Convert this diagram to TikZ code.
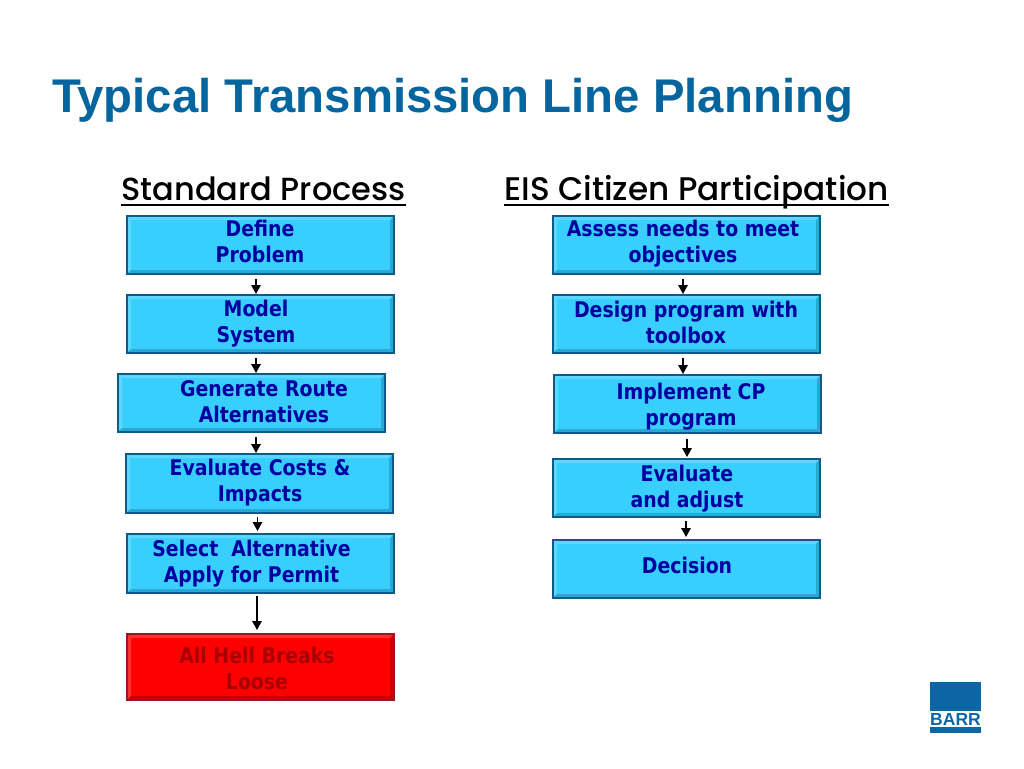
\documentclass[tikz,border=0pt]{standalone}
\usepackage{fontspec}
\setmainfont{Liberation Sans}
\newfontfamily\boxfont[FakeStretch=0.875]{DejaVu Sans Bold}
\newfontfamily\headfont{Poppins Medium}
\usetikzlibrary{arrows.meta,calc}
\definecolor{titleblue}{HTML}{05659E}
\definecolor{boxfill}{HTML}{38CFFF}
\definecolor{boxlight}{HTML}{5CD8FF}
\definecolor{boxdark}{HTML}{2AA8D4}
\definecolor{boxedge}{HTML}{0E5A88}
\definecolor{boxtext}{HTML}{0000A0}
\definecolor{redfill}{HTML}{FF0000}
\definecolor{redlight}{HTML}{FF3030}
\definecolor{reddark}{HTML}{C80000}
\definecolor{rededge}{HTML}{9A1525}
\definecolor{redtext}{HTML}{A80000}
\definecolor{logoblue}{HTML}{0B66A5}
\tikzset{
  bevel/.style n args={2}{path picture={
    \coordinate (bl) at (path picture bounding box.south west);
    \coordinate (tr) at (path picture bounding box.north east);
    \coordinate (tl) at (path picture bounding box.north west);
    \coordinate (br) at (path picture bounding box.south east);
    \fill[#1] (bl) -- (tl) -- (tr) -- ($(tr)+(-4,4)$) -- ($(tl)+(4,4)$) -- ($(bl)+(4,-4)$) -- cycle;
    \fill[#2] (bl) -- (br) -- (tr) -- ($(tr)+(-4,4)$) -- ($(br)+(-4,-4)$) -- ($(bl)+(4,-4)$) -- cycle;
  }},
  flowbox/.style={rectangle,inner sep=0,minimum width=267pt,minimum height=58pt,draw=boxedge,line width=2pt,fill=boxfill,bevel={boxlight}{boxdark}},
  redbox/.style={rectangle,inner sep=0,minimum width=267pt,minimum height=66pt,draw=rededge,line width=2pt,fill=redfill,bevel={redlight}{reddark}},
  boxlabel/.style={align=center,inner sep=0,text=boxtext,font=\boxfont\fontsize{21.6}{26}\selectfont},
  redlabel/.style={boxlabel,text=redtext},
  heading/.style={anchor=base,inner sep=0,text height=24pt,text depth=4.5pt},
  rulehead/.style={line width=2.4pt},
  arr/.style={line width=1.5pt,-{Triangle[length=9pt,width=9.5pt]}},
}
\begin{document}
\begin{tikzpicture}[x=1pt,y=-1pt]
\useasboundingbox (0,0) rectangle (1024,768);
\fill[white] (0,0) rectangle (1024,768);
\node[anchor=base west,inner sep=0,text=titleblue,font=\bfseries\fontsize{47.3}{50}\selectfont] (title) at (52,112) {Typical Transmission Line Planning};

\node[heading,font=\headfont\fontsize{32}{36}\selectfont] (h1) at (263.5,200.5) {Standard Process};
\node[heading,font=\headfont\fontsize{32.7}{36}\selectfont] (h2) at (696.5,200.5) {EIS Citizen Participation};
\draw[rulehead] (h1.south west) -- (h1.south east);
\draw[rulehead] (h2.south west) -- (h2.south east);

% left column
\node[flowbox] (a1) at (260.5,245) {};
\node[flowbox] (a2) at (260.5,324) {};
\node[flowbox] (a3) at (251.5,403) {};
\node[flowbox,minimum height=59pt] (a4) at (259.5,483.5) {};
\node[flowbox,minimum height=59pt] (a5) at (260.5,563.5) {};
\node[redbox] (a6) at (260.5,667) {};
\node[boxlabel] (ta1) at (260,241.5) {Define\\Problem};
\node[boxlabel] (ta2) at (256,324) {Model\\System};
\node[boxlabel] (ta3) at (264,401.5) {Generate Route\\Alternatives};
\node[boxlabel] (ta4) at (260,483) {Evaluate Costs \&\\Impacts};
\node[boxlabel] (ta5) at (251.5,563.5) {Select~ Alternative\\Apply for Permit};
\node[redlabel] (ta6) at (257,668) {All Hell Breaks\\Loose};

% right column
\node[flowbox] (b1) at (686.5,245) {};
\node[flowbox] (b2) at (686.5,324) {};
\node[flowbox] (b3) at (687.5,404) {};
\node[flowbox] (b4) at (686.5,488) {};
\node[flowbox] (b5) at (686.5,569) {};
\node[boxlabel] (tb1) at (683,243.5) {Assess needs to meet\\objectives};
\node[boxlabel] (tb2) at (686,322) {Design program with\\toolbox};
\node[boxlabel] (tb3) at (691,406.5) {Implement CP\\program};
\node[boxlabel] (tb4) at (687,488.5) {Evaluate\\and adjust};
\node[boxlabel] (tb5) at (687,565.5) {Decision};

% connectors
\draw[arr] ([xshift=-4.5pt,yshift=-4pt]a1.south) -- ([xshift=-4.5pt]a2.north);
\draw[arr] ([xshift=-4.5pt,yshift=-4pt]a2.south) -- ([xshift=4.5pt]a3.north);
\draw[arr] ([xshift=4.5pt,yshift=-4pt]a3.south) -- ([xshift=-3.5pt]a4.north);
\draw[arr] ([xshift=-2pt,yshift=-3pt]a4.south) -- ([xshift=-3pt,yshift=2pt]a5.north);
\draw[arr] ([xshift=-3.5pt,yshift=-2pt]a5.south) -- ([xshift=-3.5pt,yshift=3pt]a6.north);
\draw[arr] ([xshift=-3.5pt,yshift=-4pt]b1.south) -- ([xshift=-3.5pt]b2.north);
\draw[arr] ([xshift=-3.5pt,yshift=-4pt]b2.south) -- ([xshift=-4.5pt]b3.north);
\draw[arr] ([xshift=-0.5pt,yshift=-5pt]b3.south) -- ([xshift=0.5pt,yshift=1pt]b4.north);
\draw[arr] ([xshift=-0.5pt,yshift=-3pt]b4.south) -- ([xshift=-0.5pt,yshift=2pt]b5.north);

% logo
\fill[logoblue] (930,682) rectangle (981,711);
\fill[logoblue] (930,727) rectangle (981,733);
\node[inner sep=0,text=logoblue,font=\bfseries\fontsize{17.5}{17}\selectfont] (logo) at (955.5,719) {BARR};
\end{tikzpicture}
\end{document}
